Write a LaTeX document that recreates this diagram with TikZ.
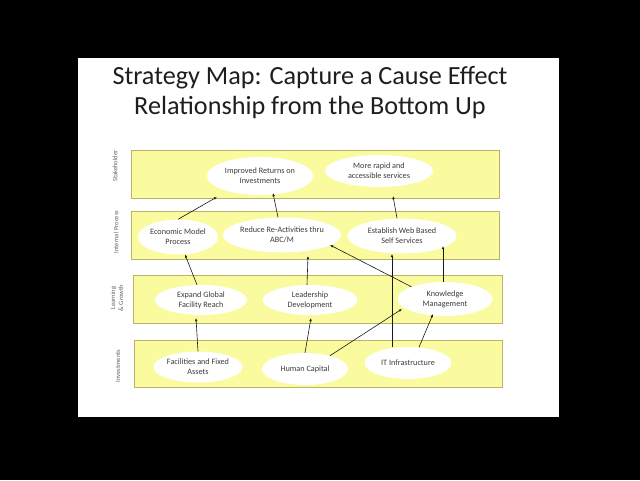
\documentclass[tikz,border=0pt]{standalone}
\usepackage{fontspec}
\setmainfont{Carlito}
\usetikzlibrary{shapes.geometric,arrows.meta}
\definecolor{bandfill}{RGB}{250,250,158}
\definecolor{bandline}{RGB}{185,180,105}
\definecolor{txtgray}{RGB}{60,60,60}
\definecolor{sidegray}{RGB}{100,100,100}
\definecolor{titlecol}{RGB}{30,30,30}
\begin{document}
\begin{tikzpicture}[x=1pt,y=-1pt,
  band/.style={draw=bandline, fill=bandfill, line width=0.9pt},
  ell/.style={ellipse, fill=white, draw=none, inner sep=0pt, align=center,
    font=\fontsize{8.2}{10}\selectfont, text=txtgray},
  side/.style={rotate=90, align=center, font=\fontsize{6.6}{8}\selectfont, text=sidegray},
  arr/.style={draw=black!90, line width=0.6pt, -{Latex[length=3.2pt,width=2.6pt]}}
]
% background and slide
\fill[black] (0,0) rectangle (640,480);
\fill[white] (78,58) rectangle (559,417);

% title
\node[align=center, text=titlecol, font=\fontsize{26.2}{30}\selectfont] (title) at (310,93)
  {Strategy Map: Capture a Cause Effect\\Relationship from the Bottom Up};

% bands
\draw[band] (131,150) rectangle (499,198);
\draw[band] (131,211) rectangle (499,259);
\draw[band] (133,275) rectangle (502,323);
\draw[band] (134,340) rectangle (502,387);

% side labels
\node[side] (lS) at (115,166) {Stakeholder};
\node[side] (lI) at (116,232) {Internal Process};
\node[side] (lL) at (117,298) {Learning\\\& Growth};
\node[side] (lV) at (118,366) {Investments};

% ellipses
\node[ell, minimum width=106pt, minimum height=38pt] (ret) at (260,176) {Improved Returns on\\Investments};
\node[ell, minimum width=108pt, minimum height=32pt] (rapid) at (379,171) {More rapid and\\accessible services};
\node[ell, minimum width=80pt, minimum height=35pt] (econ) at (178,237) {Economic Model\\Process};
\node[ell, minimum width=117pt, minimum height=35pt] (reduce) at (282,235) {Reduce Re-Activities thru\\ABC/M};
\node[ell, minimum width=109pt, minimum height=35pt] (web) at (402,236) {Establish Web Based\\Self Services};
\node[ell, minimum width=92pt, minimum height=30pt] (expand) at (201,300) {Expand Global\\Facility Reach};
\node[ell, minimum width=95pt, minimum height=30pt] (lead) at (310,300) {Leadership\\Development};
\node[ell, minimum width=95pt, minimum height=34pt] (know) at (445,299) {Knowledge\\Management};
\node[ell, minimum width=89pt, minimum height=31pt] (fac) at (198,367) {Facilities and Fixed\\Assets};
\node[ell, minimum width=86pt, minimum height=32pt] (hum) at (305,369) {Human Capital};
\node[ell, minimum width=87pt, minimum height=32pt] (it) at (408,363) {IT Infrastructure};

% arrow tips
\coordinate (t1) at (217,197);
\coordinate (t2) at (273,193);
\coordinate (t3) at (393,196);
\coordinate (t5) at (308,256);
\coordinate (t6) at (330,245);
\coordinate (t7) at (392,254);
\coordinate (t8) at (443,246);
\coordinate (t9) at (196,318);
\coordinate (t10) at (311,318);
\coordinate (t11) at (402,309);
\coordinate (t12) at (433,314);

% connectors
\draw[arr] (econ.north) -- (t1);
\draw[arr] ([xshift=-4pt]reduce.north) -- (t2);
\draw[arr] ([xshift=-5pt]web.north) -- (t3);
\draw[arr] ([xshift=-4pt]expand.north) -- (econ);
\draw[arr] ([xshift=-3pt]lead.north) -- (t5);
\draw[arr] (know.160) -- (t6);
\draw[arr] (it.north -| t7) -- (t7);
\draw[arr] (know.north -| t8) -- (t8);
\draw[arr] (fac.north) -- (t9);
\draw[arr] (hum.north) -- (t10);
\draw[arr] (hum.28) -- (t11);
\draw[arr] (it.55) -- (t12);
\end{tikzpicture}
\end{document}
